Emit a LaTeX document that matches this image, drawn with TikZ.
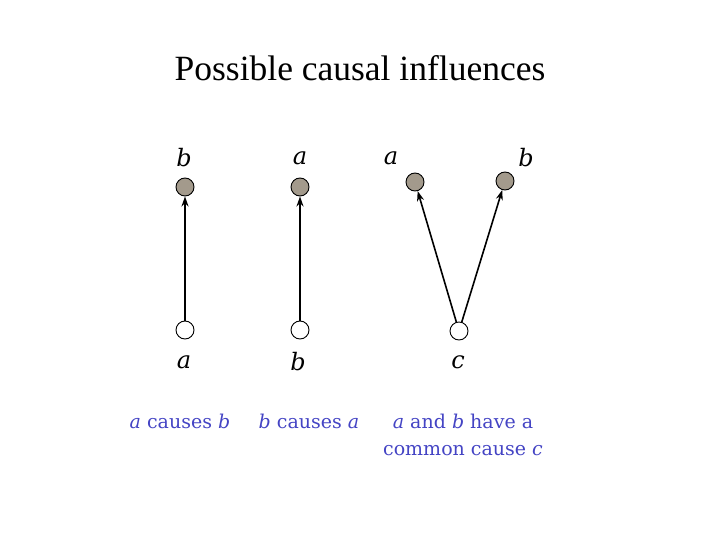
\documentclass[tikz,border=0pt]{standalone}
\usepackage{fontspec}
\setmainfont{Liberation Serif}
\newfontfamily\varfont{DejaVu Serif}
\definecolor{stone}{HTML}{A39A8C}
\definecolor{capblue}{HTML}{4444C4}
\usetikzlibrary{arrows.meta,positioning}
\newcommand{\vn}[1]{\textit{#1}}
\tikzset{
  obs/.style={circle,draw=black,line width=0.9pt,fill=stone,minimum size=18pt,inner sep=0pt},
  hid/.style={circle,draw=black,line width=0.9pt,fill=white,minimum size=18pt,inner sep=0pt},
  var/.style={font=\varfont\fontsize{24}{26}\selectfont,inner sep=0pt},
  capt/.style={font=\varfont\fontsize{19}{27}\selectfont,text=capblue,align=center,inner sep=0pt},
  arr/.style={-{Stealth[length=10pt,width=7pt]},line width=1.6pt,black}
}
\begin{document}
\begin{tikzpicture}[x=1pt,y=-1pt]
    \useasboundingbox (0,0) rectangle (720,540);
    \node[font=\fontsize{35.5}{38}\selectfont] (title) at (360,68) {Possible causal influences};
    % a causes b
    \node[obs] (b1) at (185,187) {};
    \node[hid] (a1) at (185,330) {};
    \node[var] (lb1) at (184,158) {\vn{b}};
    \node[var] (la1) at (184,362) {\vn{a}};
    \draw[arr] (a1) -- (b1);
    % b causes a
    \node[obs] (a2) at (300,187) {};
    \node[hid] (b2) at (300,330) {};
    \node[var] (la2) at (300,158) {\vn{a}};
    \node[var] (lb2) at (298,362) {\vn{b}};
    \draw[arr] (b2) -- (a2);
    % common cause
    \node[obs] (a3) at (415,182) {};
    \node[obs] (b3) at (505,181) {};
    \node[hid] (c3) at (459,331) {};
    \node[var] (la3) at (391,158) {\vn{a}};
    \node[var] (lb3) at (526,158) {\vn{b}};
    \node[var] (lc3) at (458,362) {\vn{c}};
    \draw[arr] (c3) -- (a3);
    \draw[arr] (c3) -- (b3);
    % captions
    \node[capt] (cap1) at (180,421) {\vn{a} causes \vn{b}};
    \node[capt] (cap2) at (309,421) {\vn{b} causes \vn{a}};
    \node[capt] (cap3) at (463,435) {\vn{a} and \vn{b} have a\\common cause \vn{c}};
\end{tikzpicture}
\end{document}
